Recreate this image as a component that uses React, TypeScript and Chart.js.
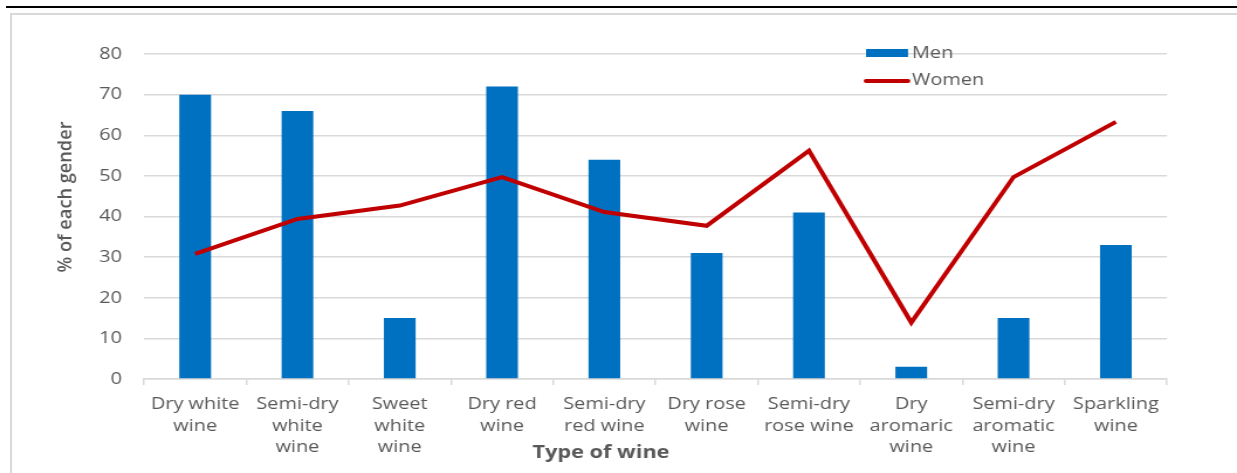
import React, { useEffect, useRef } from "react";
import { Chart, registerables } from "chart.js";

Chart.register(...registerables);

const categories: string[][] = [
  ["Dry white", "wine"],
  ["Semi-dry", "white", "wine"],
  ["Sweet", "white", "wine"],
  ["Dry red", "wine"],
  ["Semi-dry", "red wine"],
  ["Dry rose", "wine"],
  ["Semi-dry", "rose wine"],
  ["Dry", "aromaric", "wine"],
  ["Semi-dry", "aromatic", "wine"],
  ["Sparkling", "wine"],
];

const menValues: number[] = [70, 66, 15, 72, 54, 31, 41, 3, 15, 33];
const womenValues: number[] = [30.8, 39.4, 42.7, 49.7, 41.1, 37.7, 56.2, 13.9, 49.7, 63.3];

const yTicks: number[] = [0, 10, 20, 30, 40, 50, 60, 70, 80];

const xTitle = "Type of wine";
const yTitle = "% of each gender";
const menLabel = "Men";
const womenLabel = "Women";

const BLUE = "#0070C0";
const RED = "#C00000";
const GRID = "#d9d9d9";
const TEXT = "#595959";
const FONT = "'Open Sans', sans-serif";

// The reference is drawn horizontally widened; render narrower and stretch.
const VIEW_W = 1237;
const VIEW_H = 473;
const CANVAS_W = 1057;
const SX = VIEW_W / CANVAS_W;
const X = (px: number) => px / SX;

function fitText(
  ctx: CanvasRenderingContext2D,
  text: string,
  cx: number,
  cy: number,
  width: number,
  rot: number
) {
  const w = ctx.measureText(text).width;
  ctx.save();
  ctx.translate(cx, cy);
  ctx.rotate(rot);
  ctx.scale(width / w, 1);
  ctx.textAlign = "center";
  ctx.textBaseline = "middle";
  ctx.fillText(text, 0, 0);
  ctx.restore();
}

const decorPlugin = {
  id: "decor",
  afterDraw(chart: any) {
    const ctx: CanvasRenderingContext2D = chart.ctx;
    const a = chart.chartArea;
    ctx.save();
    // legend
    ctx.fillStyle = BLUE;
    ctx.fillRect(X(866), a.top - 5, X(908) - X(866), 8);
    ctx.strokeStyle = RED;
    ctx.lineWidth = 4;
    ctx.lineCap = "round";
    ctx.beginPath();
    ctx.moveTo(X(866), a.top + 27);
    ctx.lineTo(X(908), a.top + 27);
    ctx.stroke();
    ctx.fillStyle = TEXT;
    ctx.font = `17px ${FONT}`;
    ctx.textAlign = "left";
    ctx.textBaseline = "middle";
    ctx.fillText(menLabel, X(912), a.top - 1);
    ctx.fillText(womenLabel, X(912), a.top + 26);
    // axis titles
    ctx.font = `600 17px ${FONT}`;
    fitText(ctx, yTitle, X(66), a.top + 143, 151, -Math.PI / 2);
    ctx.font = `bold 18px ${FONT}`;
    fitText(ctx, xTitle, X(601), a.bottom + 74, X(669) - X(532), 0);
    ctx.restore();
  },
};

export default function App() {
  const ref = useRef<HTMLCanvasElement | null>(null);

  useEffect(() => {
    if (!ref.current) return;
    const chart = new Chart(ref.current, {
      type: "bar",
      data: {
        labels: categories,
        datasets: [
          {
            type: "line",
            label: womenLabel,
            data: womenValues,
            borderColor: RED,
            backgroundColor: RED,
            borderWidth: 4,
            pointRadius: 0,
            tension: 0,
            order: 0,
          } as any,
          {
            type: "bar",
            label: menLabel,
            data: menValues,
            backgroundColor: BLUE,
            borderWidth: 0,
            categoryPercentage: 1,
            barPercentage: 0.31,
            order: 1,
          },
        ],
      },
      options: {
        animation: false,
        responsive: false,
        maintainAspectRatio: false,
        layout: {
          padding: { left: 0, top: 54, right: CANVAS_W - X(1167), bottom: 0 },
        },
        plugins: {
          legend: { display: false },
          tooltip: { enabled: false },
        },
        scales: {
          x: {
            grid: {
              offset: true,
              drawOnChartArea: false,
              drawTicks: true,
              tickLength: 6,
              color: GRID,
              lineWidth: 1.5,
            },
            border: { display: true, color: GRID, width: 1.5 },
            ticks: {
              color: TEXT,
              font: { family: FONT, size: 17, lineHeight: 1.25 },
              padding: 9,
              autoSkip: false,
              maxRotation: 0,
              minRotation: 0,
            },
            afterFit: (s: any) => {
              s.height = 94;
            },
          },
          y: {
            min: 0,
            max: 80,
            afterBuildTicks: (s: any) => {
              s.ticks = yTicks.map((v) => ({ value: v }));
            },
            grid: {
              drawTicks: false,
              color: GRID,
              lineWidth: 1.5,
            },
            border: { display: false },
            ticks: {
              color: TEXT,
              font: { family: FONT, size: 17 },
              padding: X(22),
            },
            afterFit: (s: any) => {
              s.width = X(144);
            },
          },
        },
      },
      plugins: [decorPlugin],
    });
    return () => chart.destroy();
  }, []);

  return (
    <div
      style={{
        position: "fixed",
        left: 0,
        top: 0,
        width: VIEW_W,
        height: VIEW_H,
        background: "#fff",
        overflow: "hidden",
      }}
    >
      <div
        style={{
          position: "absolute",
          left: 6,
          top: 6,
          width: 1231,
          height: 2,
          background: "#000",
        }}
      />
      <div
        style={{
          position: "absolute",
          left: 10,
          top: 13,
          width: 1300,
          height: 500,
          borderLeft: "2px solid #d9d9d9",
          borderTop: "2px solid #d9d9d9",
        }}
      />
      <canvas
        ref={ref}
        width={CANVAS_W}
        height={VIEW_H}
        style={{ position: "absolute", left: 0, top: 0, width: VIEW_W, height: VIEW_H }}
      />
    </div>
  );
}
